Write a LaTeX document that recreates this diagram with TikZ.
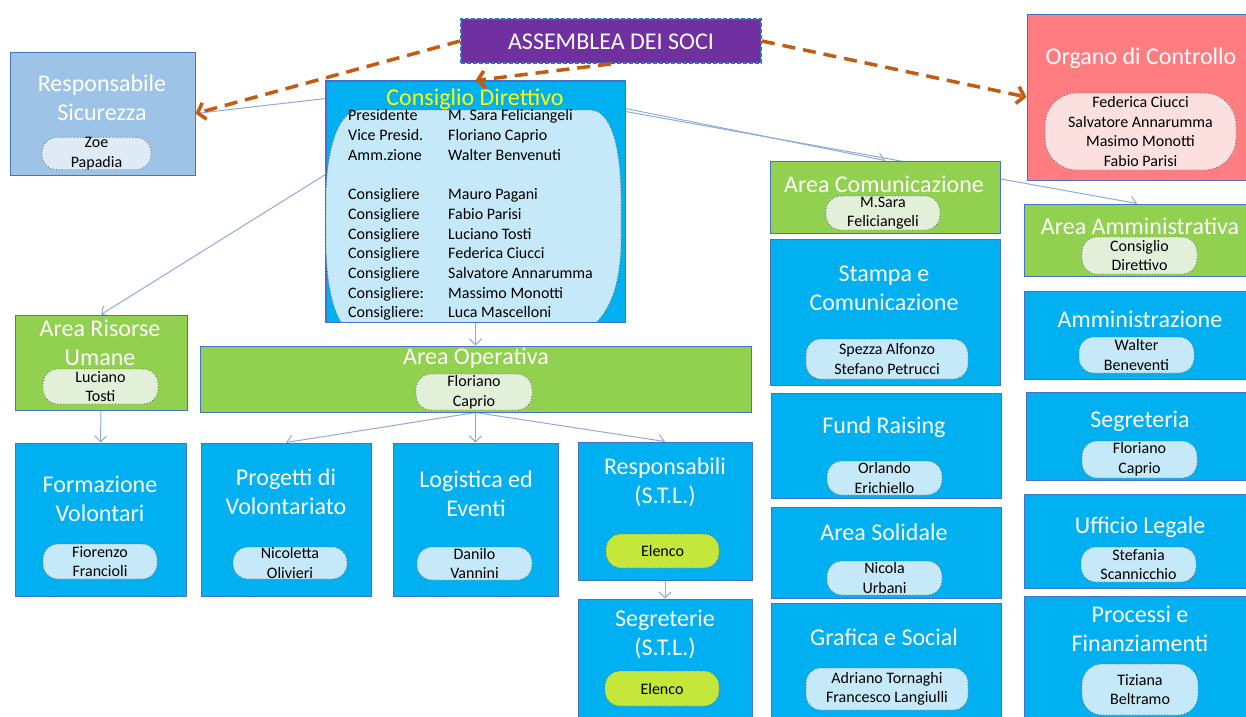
\documentclass[tikz,border=0pt]{standalone}
\usepackage{fontspec}
\setmainfont{Carlito}
\usetikzlibrary{arrows.meta,calc,backgrounds}
\definecolor{cyanc}{HTML}{00B0F0}
\definecolor{greenc}{HTML}{92D050}
\definecolor{bordc}{HTML}{4472C4}
\definecolor{pillblue}{HTML}{C5E9F9}
\definecolor{pillgreen}{HTML}{E2F0D9}
\definecolor{pilllime}{HTML}{C5E63A}
\definecolor{rsfill}{HTML}{9DC3E6}
\definecolor{rspill}{HTML}{DEEBF7}
\definecolor{orgfill}{HTML}{FF7C80}
\definecolor{orgpill}{HTML}{FCE0E0}
\definecolor{purplec}{HTML}{7030A0}
\definecolor{asmbord}{HTML}{2E75B6}
\definecolor{connc}{HTML}{8FAADC}
\definecolor{orangec}{HTML}{C55A11}
\definecolor{pillbord}{HTML}{6F6F6F}
\definecolor{yellowc}{HTML}{FFFF00}
\begin{document}
\begin{tikzpicture}[x=1pt,y=-1pt,
  box/.style={draw=bordc, line width=1pt, inner sep=0pt, rectangle},
  cyanbox/.style={box, fill=cyanc},
  greenbox/.style={box, fill=greenc},
  ttl/.style={text=white, font=\fontsize{24}{29}\selectfont, align=center, inner sep=0pt},
  pill/.style={draw=pillbord, dotted, line width=0.9pt, inner sep=0pt, align=center,
    font=\fontsize{16}{19.6}\selectfont, text=black, rounded corners=15pt},
  bluepill/.style={pill, fill=pillblue},
  greenpill/.style={pill, fill=pillgreen},
  limepill/.style={pill, fill=pilllime},
  conn/.style={draw=connc, line width=1pt, -{Straight Barb[length=6pt,width=12pt]}},
  plainconn/.style={draw=connc, line width=1pt},
  orangearrow/.style={draw=orangec, line width=3.5pt, dash pattern=on 13pt off 8pt,
    -{Straight Barb[length=7pt,width=17pt]}},
  members/.style={inner sep=0pt, align=left, font=\fontsize{16}{19.7}\selectfont, text=black}
]
\clip (0,0) rectangle (1246,716);

% ---------- boxes ----------
\node[box, fill=purplec, draw=asmbord, line width=1.8pt, dash pattern=on 4pt off 2pt,
  minimum width=300pt, minimum height=44pt] (asm) at (611,41) {};
\node[ttl] at (611,42) {ASSEMBLEA DEI SOCI};

\node[box, fill=rsfill, minimum width=185pt, minimum height=123pt] (rs) at (102.5,113.5) {};
\node[ttl] at (102,98) {Responsabile\\Sicurezza};
\node[pill, fill=rspill, minimum width=109pt, minimum height=31pt] (rsp) at (96.5,153.5) {Zoe\\Papadia};

\node[cyanbox, minimum width=299pt, minimum height=241pt] (cons) at (475.5,201.5) {};
\begin{scope}
  \clip (cons.north west) rectangle (cons.south east);
  \draw[draw=pillbord, dotted, line width=0.9pt, fill=pillblue]
    (360,110) -- (590,110) .. controls (612,110) and (621,150) .. (621,200)
    -- (621,240) .. controls (621,300) and (600,335) .. (560,340)
    -- (365,340) .. controls (335,335) and (326,290) .. (326,240)
    -- (326,200) .. controls (326,150) and (338,110) .. (360,110) -- cycle;
\end{scope}
\draw[bordc, line width=1pt] (cons.north west) rectangle (cons.south east);
\node[ttl, text=yellowc] at (475,99) {Consiglio Direttivo};
\node[members, anchor=north west] (mem) at (348,109.5) {%
\makebox[100pt][l]{Presidente}M. Sara Feliciangeli\\
\makebox[100pt][l]{Vice Presid.}Floriano Caprio\\
\makebox[100pt][l]{Amm.zione}Walter Benvenuti\\[19.7pt]
\makebox[100pt][l]{Consigliere}Mauro Pagani\\
\makebox[100pt][l]{Consigliere}Fabio Parisi\\
\makebox[100pt][l]{Consigliere}Luciano Tosti\\
\makebox[100pt][l]{Consigliere}Federica Ciucci\\
\makebox[100pt][l]{Consigliere}Salvatore Annarumma\\
\makebox[100pt][l]{Consigliere:}Massimo Monotti\\
\makebox[100pt][l]{Consigliere:}Luca Mascelloni};

\node[box, fill=orgfill, minimum width=223pt, minimum height=166pt] (org) at (1138.5,97) {};
\node[ttl] at (1141,58) {Organo di Controllo};
\node[pill, fill=orgpill, rounded corners=32pt, minimum width=191pt, minimum height=77pt] (orgp) at (1140.5,131.5)
  {Federica Ciucci\\Salvatore Annarumma\\Masimo Monotti\\Fabio Parisi};

% right columns
\node[greenbox, minimum width=230pt, minimum height=72pt] (acom) at (885,197) {};
\node[ttl] at (884,184) {Area Comunicazione};
\node[greenpill, minimum width=114pt, minimum height=34pt] (acomp) at (883,213) {M.Sara\\Feliciangeli};

\node[greenbox, minimum width=226pt, minimum height=72pt] (aam) at (1137,240) {};
\node[ttl] at (1140,226) {Area Amministrativa};
\node[greenpill, minimum width=115pt, minimum height=37pt] (aamp) at (1139.5,255.5) {Consiglio\\Direttivo};

\node[cyanbox, minimum width=230pt, minimum height=146pt] (stampa) at (885,312) {};
\node[ttl] at (884,288) {Stampa e\\Comunicazione};
\node[bluepill, minimum width=162pt, minimum height=40pt] (stampap) at (887,359) {Spezza Alfonzo\\Stefano Petrucci};

\node[cyanbox, minimum width=230pt, minimum height=105pt] (fund) at (886,445.5) {};
\node[ttl] at (884,427) {Fund Raising};
\node[bluepill, minimum width=115pt, minimum height=34pt] (fundp) at (884.5,478) {Orlando\\Erichiello};

\node[cyanbox, minimum width=230pt, minimum height=91pt] (sol) at (886,553) {};
\node[ttl] at (884,532) {Area Solidale};
\node[bluepill, minimum width=115pt, minimum height=34pt] (solp) at (884.5,578) {Nicola\\Urbani};

\node[cyanbox, minimum width=230pt, minimum height=117pt] (graf) at (886,662) {};
\node[ttl] at (884,637) {Grafica e Social};
\node[bluepill, minimum width=162pt, minimum height=42pt] (grafp) at (887,689) {Adriano Tornaghi\\Francesco Langiulli};

\node[cyanbox, minimum width=226pt, minimum height=88pt] (amm) at (1137,335) {};
\node[ttl] at (1140,319) {Amministrazione};
\node[bluepill, minimum width=115pt, minimum height=36pt] (ammp) at (1136.5,355) {Walter\\Beneventi};

\node[cyanbox, minimum width=224pt, minimum height=88pt] (seg) at (1138,436.5) {};
\node[ttl] at (1140,421) {Segreteria};
\node[bluepill, minimum width=115pt, minimum height=37pt] (segp) at (1139.5,459.5) {Floriano\\Caprio};

\node[cyanbox, minimum width=226pt, minimum height=94pt] (leg) at (1137,541.5) {};
\node[ttl] at (1140,527) {Ufficio Legale};
\node[bluepill, minimum width=115pt, minimum height=35pt] (legp) at (1138.5,564.5) {Stefania\\Scannicchio};

\node[cyanbox, minimum width=226pt, minimum height=124pt] (proc) at (1137,658) {};
\node[ttl] at (1140,628.5) {Processi e\\Finanziamenti};
\node[bluepill, rounded corners=20pt, minimum width=116pt, minimum height=51pt] (procp) at (1140,689.5) {Tiziana\\Beltramo};

% left / middle
\node[greenbox, minimum width=172pt, minimum height=95pt] (aru) at (101,362.5) {};
\node[ttl] at (100,342.5) {Area Risorse\\Umane};
\node[greenpill, minimum width=115pt, minimum height=35pt] (arup) at (100.5,386.5) {Luciano\\Tosti};

\node[greenbox, minimum width=551pt, minimum height=66pt] (aop) at (475.5,379) {};
\node[ttl] at (476,358) {Area Operativa};
\node[greenpill, minimum width=116pt, minimum height=36pt] (aopp) at (474,392) {Floriano\\Caprio};

\node[cyanbox, minimum width=171pt, minimum height=153pt] (form) at (100.5,519.5) {};
\node[ttl] at (100,499) {Formazione\\Volontari};
\node[bluepill, minimum width=114pt, minimum height=35pt] (formp) at (100,561.5) {Fiorenzo\\Francioli};

\node[cyanbox, minimum width=170pt, minimum height=153pt] (prog) at (286,519.5) {};
\node[ttl] at (286,491.5) {Progetti di\\Volontariato};
\node[bluepill, minimum width=114pt, minimum height=32pt] (progp) at (290,563) {Nicoletta\\Olivieri};

\node[cyanbox, minimum width=165pt, minimum height=153pt] (log) at (475.5,519.5) {};
\node[ttl] at (476,494) {Logistica ed\\Eventi};
\node[bluepill, minimum width=115pt, minimum height=33pt] (logp) at (474.5,563.5) {Danilo\\Vannini};

\node[cyanbox, minimum width=174pt, minimum height=138pt] (resp) at (665,511) {};
\node[ttl] at (665,482.5) {Responsabili\\(S.T.L.)};
\node[limepill, minimum width=113pt, minimum height=34pt] (respp) at (662.5,551) {Elenco};

\node[cyanbox, minimum width=174pt, minimum height=121pt] (segr) at (665,659.5) {};
\node[ttl] at (665,634) {Segreterie\\(S.T.L.)};
\node[limepill, minimum width=114pt, minimum height=35pt] (segrp) at (662,688.5) {Elenco};

% ---------- connectors (behind boxes) ----------
\begin{scope}[on background layer]
  \fill[white] (0,0) rectangle (1246,716);
  \draw[plainconn] ($(cons.north west)+(0,18)$) -- (rs.east);
  \draw[conn] ($(cons.north west)+(0,94)$) -- (aru.north);
  \draw[conn] (cons.south) -- (aop.north);
  \draw[conn] ($(cons.north east)+(0,28)$) -- (acom.north);
  \draw[conn] ($(cons.north east)+(0,31)$) -- (aam.north);
  \draw[conn] (aru.south) -- (form.north);
  \draw[conn] (aop.south) -- (prog.north);
  \draw[conn] (aop.south) -- (log.north);
  \draw[conn] (aop.south) -- (resp.north);
  \draw[conn] (resp.south) -- (segr.north);
\end{scope}

% ---------- dashed orange arrows ----------
\draw[orangearrow] (asm.west) -- (rs.east);
\draw[orangearrow] (asm.east) -- (org.west);
\draw[orangearrow] (asm.south) -- (cons.north);
\end{tikzpicture}
\end{document}
